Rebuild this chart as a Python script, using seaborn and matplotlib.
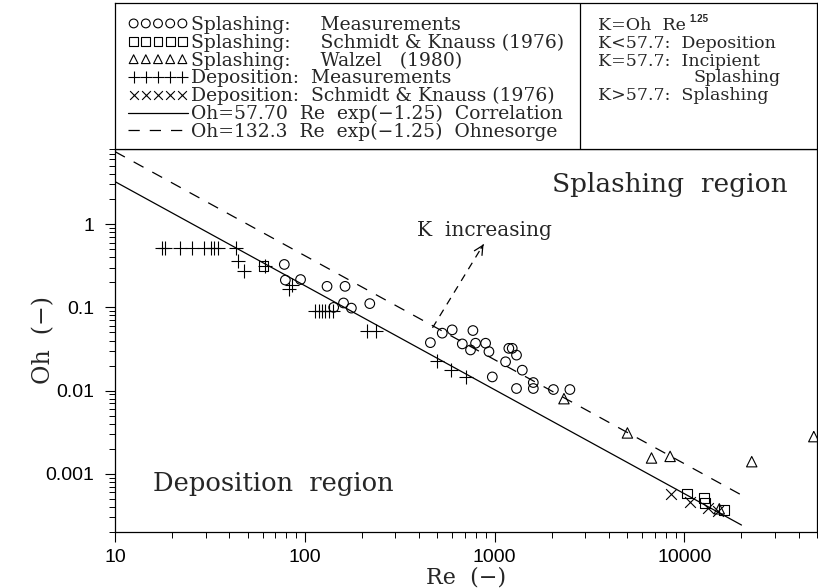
import numpy as np
import matplotlib
matplotlib.use("Agg")
import matplotlib.pyplot as plt
import seaborn as sns
from matplotlib.ticker import LogLocator, NullFormatter

# ---------------- data ----------------
splash_meas_re = [78, 79, 95, 131, 163, 160, 176, 220, 142, 459, 530, 598, 769, 676,
                  747, 794, 897, 934, 1189, 1239, 1305, 1143, 1400, 973, 1305, 1600,
                  1600, 2042, 2494]
splash_meas_oh = [0.328, 0.213, 0.216, 0.179, 0.179, 0.113, 0.098, 0.111, 0.100, 0.0377,
                  0.049, 0.0537, 0.0527, 0.0364, 0.0308, 0.0371, 0.0371, 0.0294, 0.0322,
                  0.0322, 0.0267, 0.0222, 0.0176, 0.0146, 0.0106, 0.0125, 0.0106, 0.0103,
                  0.0103]

splash_sk_re = [60.6, 10300, 12740, 12800, 16220]
splash_sk_oh = [0.313, 0.000578, 0.000513, 0.000446, 0.000367]

splash_walzel_re = [2321, 5012, 6714, 8414, 15280, 22650, 48100]
splash_walzel_oh = [0.0080, 0.0031, 0.00155, 0.00162, 0.00038, 0.0014, 0.0028]

depo_meas_re = [17.6, 18.4, 22.0, 25.6, 29.6, 32.1, 33.4, 34.8, 43.5, 44.6, 48.0, 62,
                82.8, 85.9, 113.6, 119.3, 123.7, 128.3, 134.6, 141.3, 213.8, 238,
                500, 593, 708]
depo_meas_oh = [0.513, 0.513, 0.513, 0.513, 0.513, 0.513, 0.513, 0.513, 0.513, 0.357,
                0.270, 0.31, 0.168, 0.188, 0.0911, 0.0911, 0.0911, 0.0911, 0.0911,
                0.0911, 0.0526, 0.0526, 0.0228, 0.0176, 0.0147]

depo_sk_re = [8550, 10740, 13250, 14960]
depo_sk_oh = [0.000568, 0.000462, 0.000385, 0.000357]

# correlation lines  Oh = C * Re^(-1.25)
line_re = np.array([10.0, 20000.0])
corr_c = 57.70
ohn_c = 132.3
exponent = -1.25

# "K increasing" arrow (start, end) in data coords
arrow_re = [471, 875]
arrow_oh = [0.0568, 0.573]

xtick_vals = [10, 100, 1000, 10000]
xtick_labels = ["10", "100", "1000", "10000"]
ytick_vals = [0.001, 0.01, 0.1, 1]
ytick_labels = ["0.001", "0.01", "0.1", "1"]

labels = [
    "Splashing:     Measurements",
    "Splashing:     Schmidt & Knauss (1976)",
    "Splashing:     Walzel   (1980)",
    "Deposition:  Measurements",
    "Deposition:  Schmidt & Knauss (1976)",
    "Oh=57.70  Re  exp(\u22121.25)  Correlation",
    "Oh=132.3  Re  exp(\u22121.25)  Ohnesorge",
]

# ---------------- style ----------------
sns.set_style("ticks")
plt.rcParams["font.family"] = ["DejaVu Serif"]
plt.rcParams["axes.linewidth"] = 0.9
plt.rcParams["axes.edgecolor"] = "black"

fig = plt.figure(figsize=(8.18, 5.88), dpi=100)
ax = fig.add_axes([115 / 818, 56 / 588, 702 / 818, 383 / 588])

ms_open = 48
lw_m = 0.8
handles = []

sns.scatterplot(x=splash_meas_re, y=splash_meas_oh, marker="o", s=ms_open,
                facecolor="none", edgecolor="black", linewidth=lw_m, ax=ax, legend=False)
handles.append(ax.collections[-1])
sns.scatterplot(x=splash_sk_re, y=splash_sk_oh, marker="s", s=ms_open,
                facecolor="none", edgecolor="black", linewidth=lw_m, ax=ax, legend=False)
handles.append(ax.collections[-1])
sns.scatterplot(x=splash_walzel_re, y=splash_walzel_oh, marker="^", s=ms_open + 8,
                facecolor="none", edgecolor="black", linewidth=lw_m, ax=ax, legend=False)
handles.append(ax.collections[-1])
sns.scatterplot(x=depo_meas_re, y=depo_meas_oh, marker="+", s=110,
                color="black", linewidth=lw_m, ax=ax, legend=False)
handles.append(ax.collections[-1])
sns.scatterplot(x=depo_sk_re, y=depo_sk_oh, marker="x", s=60,
                color="black", linewidth=lw_m, ax=ax, legend=False)
handles.append(ax.collections[-1])

sns.lineplot(x=line_re, y=corr_c * line_re ** exponent, color="black", linewidth=0.9,
             ax=ax, legend=False)
handles.append(ax.lines[-1])
sns.lineplot(x=line_re, y=ohn_c * line_re ** exponent, color="black", linewidth=0.9,
             linestyle=(0, (9, 8)), ax=ax, legend=False)
handles.append(ax.lines[-1])

ax.set_xscale("log")
ax.set_yscale("log")
ax.set_xlim(10, 5e4)
ax.set_ylim(2e-4, 8)

# arrow "K increasing"
ax.plot(arrow_re, arrow_oh, color="black", linewidth=0.9, linestyle=(0, (6, 5)))
lx = np.log10(arrow_re)
ly = np.log10(arrow_oh)
tail = (10 ** (lx[0] + 0.95 * (lx[1] - lx[0])), 10 ** (ly[0] + 0.95 * (ly[1] - ly[0])))
ax.annotate("", xy=(arrow_re[1], arrow_oh[1]), xytext=tail,
            arrowprops=dict(arrowstyle="->", lw=0.9, color="black", mutation_scale=16,
                            shrinkA=0, shrinkB=0))

ax.text(885, 0.846, "K  increasing", ha="center", va="center", fontsize=14.5)
ax.text(8380, 2.96, "Splashing  region", ha="center", va="center", fontsize=19)
ax.text(68.2, 0.000757, "Deposition  region", ha="center", va="center", fontsize=18.5)

# ticks
ax.set_xticks(xtick_vals)
ax.set_xticklabels(xtick_labels, fontfamily="Liberation Sans", fontsize=14)
ax.set_yticks(ytick_vals)
ax.set_yticklabels(ytick_labels, fontfamily="Liberation Sans", fontsize=14)
ax.xaxis.set_minor_locator(LogLocator(base=10, subs=np.arange(2, 10), numticks=50))
ax.yaxis.set_minor_locator(LogLocator(base=10, subs=np.arange(2, 10), numticks=50))
ax.xaxis.set_minor_formatter(NullFormatter())
ax.yaxis.set_minor_formatter(NullFormatter())
ax.tick_params(which="major", direction="out", length=7, width=0.8, colors="black", pad=5)
ax.tick_params(which="minor", direction="out", length=4, width=0.7, colors="black")
ax.tick_params(axis="y", which="major", pad=8)

ax.set_xlabel("Re  (\u2212)", fontsize=16)
ax.set_ylabel("Oh  (\u2212)", fontsize=17)
ax.xaxis.set_label_coords(0.5, -0.091)
ax.yaxis.set_label_coords(-0.085, 0.5)
for s in ax.spines.values():
    s.set_visible(True)
    s.set_linewidth(0.9)
    s.set_color("black")

# ---------------- legend box ----------------
axb = fig.add_axes([115 / 818, 439 / 588, 702 / 818, 146 / 588])
axb.set_xlim(0, 1)
axb.set_ylim(0, 1)
axb.set_xticks([])
axb.set_yticks([])
for s in axb.spines.values():
    s.set_linewidth(0.9)
    s.set_color("black")
axb.axvline(465 / 702, color="black", linewidth=0.9)

leg = axb.legend(handles, labels, loc="upper left",
                 bbox_to_anchor=(13 / 702, 1 - (16 - 3) / 146),
                 borderaxespad=0, borderpad=0, frameon=False, scatterpoints=5,
                 scatteryoffsets=[0.5], handlelength=3.2, handletextpad=0.15,
                 labelspacing=-0.02, fontsize=13.5)
for h in leg.legend_handles[:3]:
    h.set_sizes([40])
leg.legend_handles[3].set_sizes([70])
leg.legend_handles[4].set_sizes([40])

rx = (598 - 115) / 702
fs_r = 12.5
axb.text(rx, 1 - (25 - 3) / 146, "K=Oh  Re", fontsize=fs_r, va="center", ha="left")
axb.text((689 - 115) / 702, 1 - (19 - 3) / 146, "1.25", fontsize=7, fontweight="bold",
         fontfamily="Liberation Sans", va="center", ha="left")
axb.text(rx, 1 - (43 - 3) / 146, "K<57.7:  Deposition", fontsize=fs_r, va="center", ha="left")
axb.text(rx, 1 - (61 - 3) / 146, "K=57.7:  Incipient", fontsize=fs_r, va="center", ha="left")
axb.text((693 - 115) / 702, 1 - (78 - 3) / 146, "Splashing", fontsize=fs_r, va="center", ha="left")
axb.text(rx, 1 - (95 - 3) / 146, "K>57.7:  Splashing", fontsize=fs_r, va="center", ha="left")

fig.savefig("out.png", dpi=100)
